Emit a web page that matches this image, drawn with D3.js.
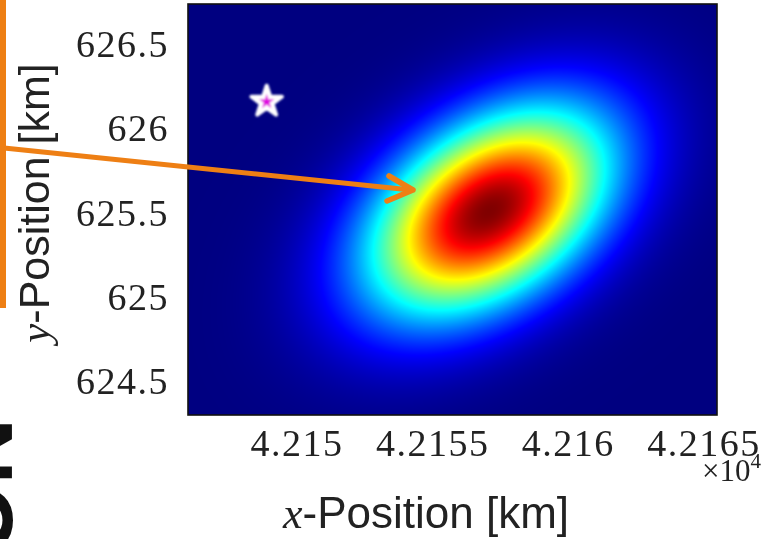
<!DOCTYPE html>
<html>
<head>
<meta charset="utf-8">
<script src="https://cdn.jsdelivr.net/npm/d3@7"></script>
<style>
  html, body { margin: 0; padding: 0; background: #fff; }
  #wrap { position: relative; width: 763px; height: 539px; overflow: hidden; }
  #wrap canvas, #wrap svg { position: absolute; left: 0; top: 0; }
</style>
</head>
<body>
<div id="wrap"></div>
<script>
// Axis extents (km)
const xDomain = [42146.0, 42165.5];
const yDomain = [624.30, 626.74];
const xTicks = [42150, 42155, 42160, 42165];
const xTickLabels = ["4.215", "4.2155", "4.216", "4.2165"];
const yTicks = [624.5, 625, 625.5, 626, 626.5];
const yTickLabels = ["624.5", "625", "625.5", "626", "626.5"];

// Position estimate: Gaussian mean, standard deviations, correlation
const meanPos = [42157.1, 625.51];
const stdDev = [3.05, 0.42];
const correlation = [0.42];
const colorLimits = [0, 1.0];

// True position marker
const starPos = [42148.9, 626.16];

// Jet colormap stops
const jetStops = [0, 0.125, 0.375, 0.625, 0.875, 1];
const jetColors = ["#000080", "#0000ff", "#00ffff", "#ffff00", "#ff0000", "#800000"];

const W = 763, H = 539;
const plot = { left: 188, top: 4, right: 717, bottom: 415 };

const x = d3.scaleLinear().domain(xDomain).range([plot.left, plot.right]);
const y = d3.scaleLinear().domain(yDomain).range([plot.bottom, plot.top]);
const jet = d3.scaleLinear().domain(jetStops).range(jetColors).clamp(true);
const cNorm = d3.scaleLinear().domain(colorLimits).range([0, 1]).clamp(true);

const wrap = d3.select("#wrap");

// Density heatmap on a canvas, one sample per pixel
const canvas = wrap.append("canvas").attr("width", W).attr("height", H).node();
const ctx = canvas.getContext("2d");
const pw = plot.right - plot.left, ph = plot.bottom - plot.top;
const img = ctx.createImageData(pw, ph);
const rho = correlation[0];
const k = 1 - rho * rho;
for (let j = 0; j < ph; j++) {
  const yv = y.invert(plot.top + j + 0.5);
  const dy = (yv - meanPos[1]) / stdDev[1];
  for (let i = 0; i < pw; i++) {
    const xv = x.invert(plot.left + i + 0.5);
    const dx = (xv - meanPos[0]) / stdDev[0];
    const q = (dx * dx - 2 * rho * dx * dy + dy * dy) / k;
    const f = Math.exp(-q / 2);
    const c = d3.rgb(jet(cNorm(f)));
    const o = (j * pw + i) * 4;
    img.data[o] = c.r; img.data[o + 1] = c.g; img.data[o + 2] = c.b; img.data[o + 3] = 255;
  }
}
ctx.putImageData(img, plot.left, plot.top);

const svg = wrap.append("svg").attr("width", W).attr("height", H);

const defs = svg.append("defs");
defs.append("filter").attr("id", "soft").attr("x", "-50%").attr("y", "-50%")
  .attr("width", "200%").attr("height", "200%")
  .append("feGaussianBlur").attr("stdDeviation", 1.0);

// Plot frame
svg.append("rect")
  .attr("x", plot.left).attr("y", plot.top)
  .attr("width", pw).attr("height", ph)
  .attr("fill", "none").attr("stroke", "#111").attr("stroke-width", 1.6);

const tickFont = "'Liberation Serif', 'DejaVu Serif', serif";
const labelFont = "'Liberation Sans', 'DejaVu Sans', sans-serif";

// Axes (labels only)
const gx = svg.append("g").attr("transform", `translate(0,${plot.bottom})`)
  .call(d3.axisBottom(x).tickValues(xTicks).tickFormat((d, i) => xTickLabels[i])
    .tickSize(0).tickPadding(14));
gx.select(".domain").remove();
gx.selectAll("text").attr("font-family", tickFont).attr("font-size", 38)
  .attr("letter-spacing", 1.5).attr("fill", "#222");

const gy = svg.append("g").attr("transform", `translate(${plot.left},0)`)
  .call(d3.axisLeft(y).tickValues(yTicks).tickFormat((d, i) => yTickLabels[i])
    .tickSize(0).tickPadding(19));
gy.select(".domain").remove();
gy.selectAll("text").attr("font-family", tickFont).attr("font-size", 38)
  .attr("letter-spacing", 1.5).attr("fill", "#222");

// Exponent multiplier
const mult = svg.append("text").attr("x", 761).attr("y", 481)
  .attr("text-anchor", "end").attr("font-family", tickFont).attr("fill", "#222");
mult.append("tspan").attr("font-size", 31).text("×10");
mult.append("tspan").attr("font-size", 21).attr("dy", -13).text("4");

// Axis titles
const xt = svg.append("text").attr("x", 426).attr("y", 528)
  .attr("text-anchor", "middle").attr("font-family", labelFont)
  .attr("font-size", 44).attr("fill", "#222");
xt.append("tspan").attr("font-family", tickFont).attr("font-style", "italic").text("x");
xt.append("tspan").text("-Position [km]");

const yt = svg.append("text").attr("transform", "translate(49,203) rotate(-90)")
  .attr("text-anchor", "middle").attr("font-family", labelFont)
  .attr("font-size", 43).attr("fill", "#222");
yt.append("tspan").attr("font-family", tickFont).attr("font-style", "italic").text("y");
yt.append("tspan").text("-Position [km]");

// True position star
const starG = svg.append("g").attr("transform", `translate(${x(starPos[0])},${y(starPos[1])})`)
  .attr("filter", "url(#soft)");
starG.append("path").attr("d", d3.symbol(d3.symbolStar, 16 * 16 / 0.8908130915292852)())
  .attr("fill", "#fff").attr("stroke", "#fff").attr("stroke-width", 4).attr("stroke-linejoin", "round");
starG.append("path").attr("d", d3.symbol(d3.symbolStar, 8 * 8 / 0.8908130915292852)())
  .attr("fill", "#e010e0");

// Orange callout
const orange = "#ee7f14";
svg.append("rect").attr("x", 0).attr("y", 0).attr("width", 6).attr("height", 308).attr("fill", orange);
svg.append("line").attr("x1", 4).attr("y1", 148).attr("x2", 411).attr("y2", 190)
  .attr("stroke", orange).attr("stroke-width", 5);
svg.append("polyline").attr("points", "389,176 413,190 387,201")
  .attr("fill", "none").attr("stroke", orange).attr("stroke-width", 5.5)
  .attr("stroke-linecap", "round").attr("stroke-linejoin", "round");

// Clipped side caption
svg.append("text").attr("transform", "translate(-52,418) rotate(90)")
  .attr("font-family", labelFont).attr("font-weight", "bold")
  .attr("font-size", 92).attr("fill", "#111").text("NO");
</script>
</body>
</html>
